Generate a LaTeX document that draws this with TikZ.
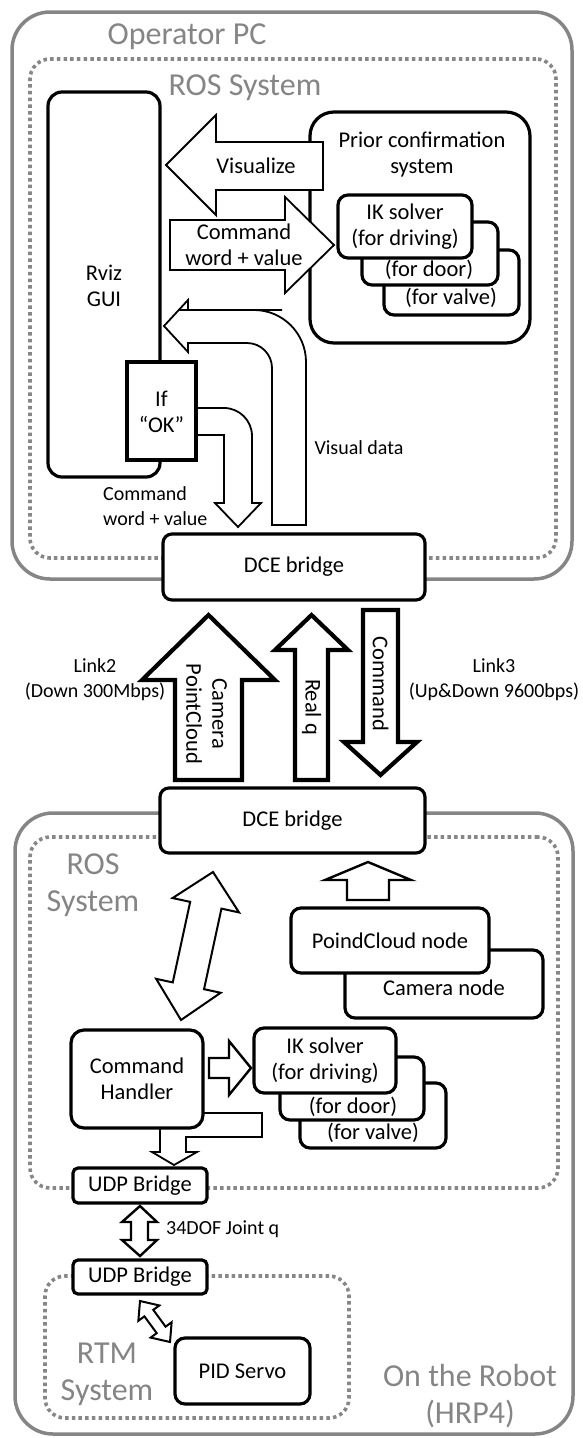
\documentclass[tikz,border=0pt]{standalone}
\usepackage{fontspec}
\setmainfont{Carlito}
\usetikzlibrary{calc}
\definecolor{tgray}{HTML}{858585}
\definecolor{dgray}{HTML}{878787}
\begin{document}
\begin{tikzpicture}[x=1pt,y=-1pt,
  bx/.style={draw=black,line width=3.2pt,fill=white,rounded corners=#1,inner sep=0pt},
  bx/.default=10pt,
  sq/.style={draw=black,line width=3.6pt,fill=white,inner sep=0pt},
  btxt/.style={font=\fontsize{22.5}{26}\selectfont,align=center,inner sep=0pt},
  lbl/.style={font=\fontsize{20}{25}\selectfont,align=center,inner sep=0pt},
  ttl/.style={font=\fontsize{32}{37}\selectfont,text=tgray,align=center,inner sep=0pt},
  outerbox/.style={draw=tgray,line width=3.5pt,rounded corners=38pt,inner sep=0pt},
  dotbox/.style={draw=dgray,line width=3.6pt,dash pattern=on 3.5pt off 3.2pt,rounded corners=20pt,inner sep=0pt},
  ba/.style={draw=black,fill=white,line width=1.8pt,line join=miter},
  bamid/.style={ba,line width=2.4pt},
  bathick/.style={ba,line width=4.2pt}]

\useasboundingbox (0,0) rectangle (582,1438);

% ===== Operator PC =====
\node[outerbox,minimum width=560pt,minimum height=567pt] (opc) at (292,295.5) {};
\node[dotbox,minimum width=526pt,minimum height=499pt] (ros1) at (293,308.5) {};
\node[ttl] (opct) at (187,37) {Operator PC};
\node[ttl] (ros1t) at (245,88) {ROS System};

\node[bx=14pt,minimum width=112pt,minimum height=385pt] (rviz) at (104,284.5) {};
\node[btxt] (rvizt) at (104,286) {Rviz\\GUI};
\node[bx=24pt,minimum width=220pt,minimum height=231pt] (prior) at (420,227.5) {};
\node[btxt] (priort) at (422,155) {Prior confirmation\\system};

% Visualize arrow
\draw[ba] (323,142) -- (216,142) -- (216,115) -- (166,165) -- (216,215) -- (216,190) -- (323,190) -- cycle;
\node[btxt] (vist) at (256,166) {Visualize};
% Command arrow
\draw[ba] (170,220) -- (285,220) -- (285,197) -- (334,245) -- (285,293) -- (285,270) -- (170,270) -- cycle;
\node[btxt] (cmdt) at (244,245) {Command\\word + value};

% IK solver stack (top)
\node[bx,minimum width=135pt,minimum height=65pt] (ikv1) at (451.5,282.5) {};
\node[btxt] (ikv1t) at (451,298) {(for valve)};
\node[bx,minimum width=136pt,minimum height=63pt] (ikdo1) at (430,253.5) {};
\node[btxt] (ikdo1t) at (429,270) {(for door)};
\node[bx,btxt,minimum width=134pt,minimum height=63pt] (ikdr1) at (405,226.5) {IK solver\\(for driving)};

% Visual data arrow
\draw[ba] (306,525) -- (306,420) [rounded corners=52pt] -- (306,310) -- (230,310) [sharp corners] -- (188,310) -- (188,300) -- (164,326) -- (188,352) -- (188,343) -- (225,343) [rounded corners=25pt] -- (272,343) -- (272,430) [sharp corners] -- (272,525) -- cycle;
\node[lbl] (vdt) at (359,448) {Visual data};

% If OK arrow
\draw[ba] (190,408) -- (200,408) [rounded corners=28pt] -- (252,408) -- (252,470) [sharp corners] -- (252,503) -- (261,503) -- (238,527) -- (215,503) -- (224,503) -- (224,435) -- (190,435) -- cycle;
\node[sq,minimum width=69pt,minimum height=98pt] (ifok) at (161.5,411) {};
\node[btxt] (ifokt) at (161.5,412) {If\\“OK”};
\node[lbl,anchor=west,align=left] (cwv) at (103,506) {Command\\word + value};

\node[bx=9pt,btxt,minimum width=262pt,minimum height=66pt] (dce1) at (294,567) {DCE bridge};

% ===== Links =====
\draw[bathick] (175,780) -- (175,680) -- (142,680) -- (208.5,615) -- (275,680) -- (242,680) -- (242,780) -- cycle;
\draw[bathick] (295,780) -- (295,650) -- (275,650) -- (311.5,615) -- (348,650) -- (328,650) -- (328,780) -- cycle;
\draw[bathick] (363,610) -- (398,610) -- (398,742) -- (417,742) -- (380.5,775) -- (344,742) -- (363,742) -- cycle;
\node[btxt,rotate=-90] (camt) at (206.5,714) {Camera\\PointCloud};
\node[btxt,rotate=-90] (realt) at (311.5,707) {Real q};
\node[btxt,rotate=-90] (cmdlt) at (380.5,684) {Command};
\node[lbl] (l2) at (95,680) {Link2\\(Down 300Mbps)};
\node[lbl] (l3) at (494,680) {Link3\\(Up\&Down 9600bps)};

% ===== Robot =====
\node[outerbox,minimum width=558pt,minimum height=621pt] (robot) at (294,1123.5) {};
\node[dotbox,minimum width=528pt,minimum height=351pt] (ros2) at (294,1012.5) {};
\node[dotbox,minimum width=304pt,minimum height=142pt] (rtm) at (197,1347) {};
\node[ttl] (ros2t) at (93,885) {ROS\\System};
\node[ttl] (rtmt) at (107,1374) {RTM\\System};
\node[ttl] (robt) at (470,1396) {On the Robot\\(HRP4)};

\node[bx=9pt,btxt,minimum width=265pt,minimum height=65pt] (dce2) at (292.5,820.5) {DCE bridge};

\node[bx,minimum width=198pt,minimum height=68pt] (cam) at (444,984) {};
\node[btxt] (camnt) at (444,988) {Camera node};
\node[bx,btxt,minimum width=198pt,minimum height=65pt] (pcl) at (390,940.5) {PoindCloud node};
\draw[bamid] (347,900) -- (347,880) -- (325,880) -- (368,862) -- (411,880) -- (389,880) -- (389,900) -- cycle;

% diagonal double arrow DCE <-> handler
\coordinate (dA) at (213,872);
\coordinate (dB) at (181,1020);
\path ($(dA)!34pt!(dB)$) coordinate (dP) ($(dB)!35pt!(dA)$) coordinate (dQ);
\draw[ba,line width=2pt] (dA) -- ($(dP)!34pt!90:(dB)$) -- ($(dP)!16pt!90:(dB)$) -- ($(dQ)!16pt!90:(dB)$) -- ($(dQ)!33pt!90:(dB)$) -- (dB) -- ($(dQ)!33pt!-90:(dB)$) -- ($(dQ)!16pt!-90:(dB)$) -- ($(dP)!16pt!-90:(dB)$) -- ($(dP)!34pt!-90:(dB)$) -- cycle;

% L arrow to UDP
\draw[ba] (262,1113) -- (262,1137) -- (186,1137) -- (186,1152) -- (197,1152) -- (174,1165) -- (152,1152) -- (160,1152) -- (160,1113) -- cycle;
\node[bx=13pt,btxt,minimum width=132pt,minimum height=98pt] (handler) at (137,1079) {Command\\Handler};
\draw[bamid] (209,1058) -- (229,1058) -- (229,1041) -- (251,1068) -- (229,1095) -- (229,1078) -- (209,1078) -- cycle;

\node[bx,minimum width=146pt,minimum height=65pt] (ikv2) at (373,1115.5) {};
\node[btxt] (ikv2t) at (373,1133) {(for valve)};
\node[bx,minimum width=144pt,minimum height=63pt] (ikdo2) at (352,1088.5) {};
\node[btxt] (ikdo2t) at (353,1107) {(for door)};
\node[bx,btxt,minimum width=142pt,minimum height=65pt] (ikdr2) at (325,1060.5) {IK solver\\(for driving)};

\node[bx=5pt,btxt,minimum width=134pt,minimum height=35pt] (udp1) at (140,1185.5) {UDP Bridge};
\node[bx=5pt,btxt,minimum width=134pt,minimum height=34pt] (udp2) at (140,1277) {UDP Bridge};
\draw[bamid] (140,1206) -- (157,1222) -- (148,1222) -- (148,1240) -- (157,1240) -- (140,1256) -- (122,1240) -- (131,1240) -- (131,1222) -- (122,1222) -- cycle;
\node[lbl,anchor=west] (dof) at (166,1229) {34DOF Joint q};

\node[bx,btxt,minimum width=135pt,minimum height=66pt] (pid) at (242.5,1371) {PID Servo};

% small diagonal double arrow UDP <-> PID
\coordinate (sA) at (140,1301);
\coordinate (sB) at (170,1342);
\path ($(sA)!15pt!(sB)$) coordinate (sP) ($(sB)!15pt!(sA)$) coordinate (sQ);
\draw[ba,line width=2pt] (sA) -- ($(sP)!13pt!90:(sB)$) -- ($(sP)!5.5pt!90:(sB)$) -- ($(sQ)!5.5pt!90:(sB)$) -- ($(sQ)!13pt!90:(sB)$) -- (sB) -- ($(sQ)!13pt!-90:(sB)$) -- ($(sQ)!5.5pt!-90:(sB)$) -- ($(sP)!5.5pt!-90:(sB)$) -- ($(sP)!13pt!-90:(sB)$) -- cycle;

\end{tikzpicture}
\end{document}
